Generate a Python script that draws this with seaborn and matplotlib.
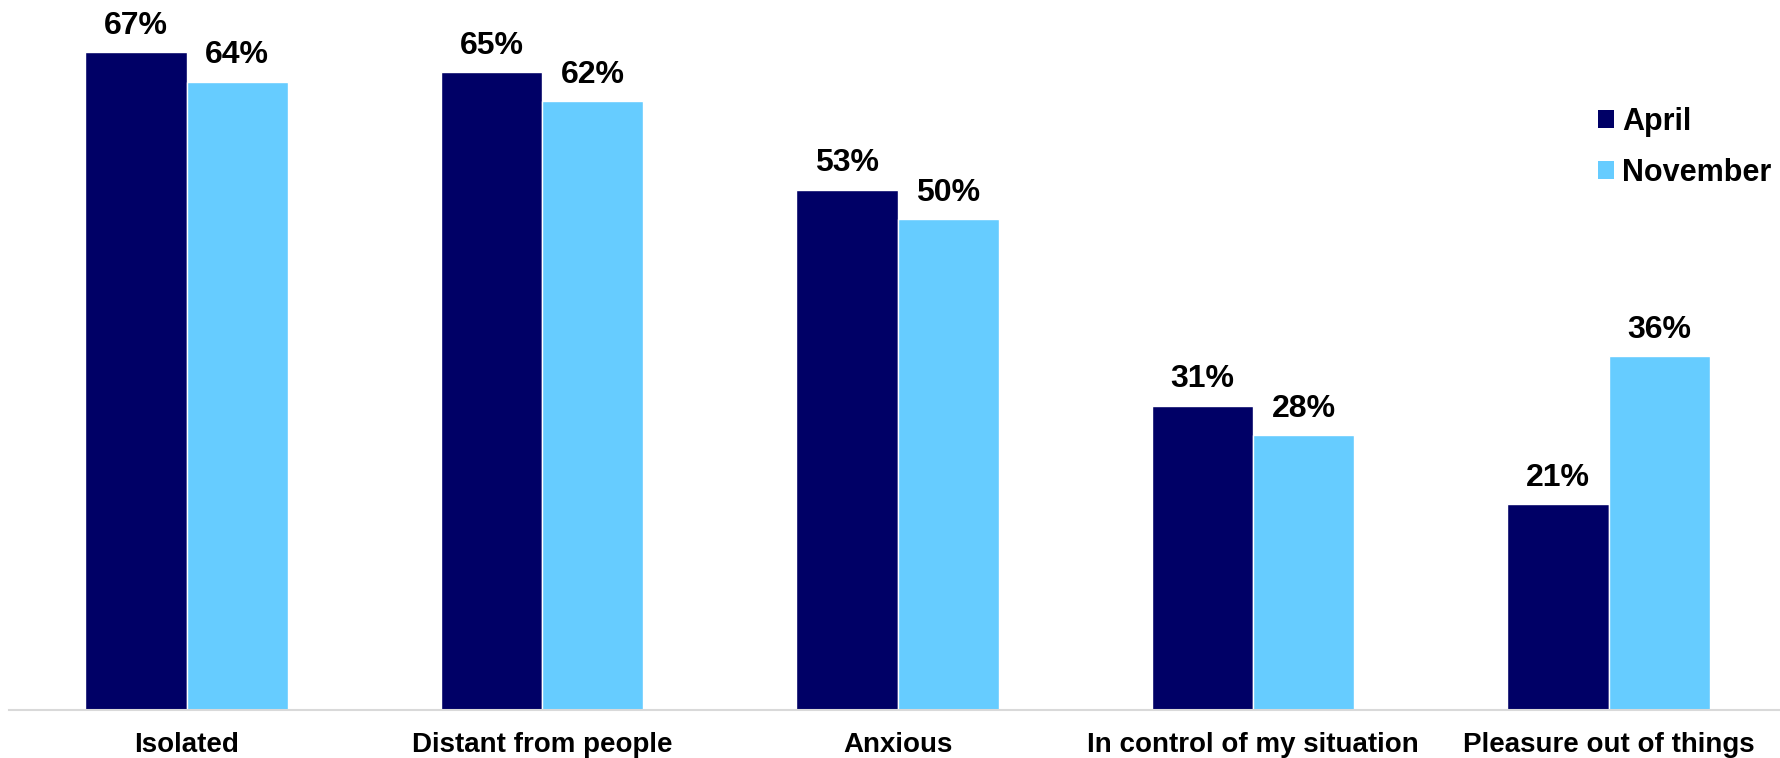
import matplotlib
matplotlib.use("Agg")
import matplotlib.pyplot as plt
import seaborn as sns
import pandas as pd
from matplotlib.patches import Patch

categories = ["Isolated", "Distant from people", "Anxious",
              "In control of my situation", "Pleasure out of things"]
april = [67, 65, 53, 31, 21]
november = [64, 62, 50, 28, 36]
series_names = ["April", "November"]
colors = ["#000066", "#66CCFF"]

df = pd.DataFrame({
    "feeling": categories * 2,
    "pct": april + november,
    "month": [series_names[0]] * len(categories) + [series_names[1]] * len(categories),
})

sns.set_theme(style="white")
plt.rcParams["font.family"] = ["Liberation Sans", "DejaVu Sans"]
plt.rcParams["font.weight"] = "bold"
plt.rcParams["text.color"] = "black"

fig = plt.figure(figsize=(17.81, 7.58), dpi=100)
ax = fig.add_axes([0.005, 0.0633, 0.998, 0.9367])

sns.barplot(data=df, x="feeling", y="pct", hue="month",
            palette=colors, width=0.57, saturation=1, ax=ax, legend=False)

for container in ax.containers:
    ax.bar_label(container, labels=[f"{v:.0f}%" for v in container.datavalues],
                 padding=8, fontsize=23, fontweight="bold", color="black")

ax.set_ylim(0, 72.3)
ax.set_xlim(-0.5, 4.5)
ax.set_xlabel("")
ax.set_ylabel("")
ax.set_yticks([])
for side in ["top", "right", "left"]:
    ax.spines[side].set_visible(False)
ax.spines["bottom"].set_color("#d9d9d9")
ax.spines["bottom"].set_linewidth(1.5)
ax.tick_params(axis="x", length=0, pad=16, labelsize=20, labelcolor="black")
for lbl in ax.get_xticklabels():
    lbl.set_fontweight("bold")

handles = [Patch(facecolor=c, edgecolor="none") for c in colors]
leg = fig.legend(handles, series_names, loc="upper left", bbox_to_anchor=(0.8973, 0.8594),
                 frameon=False, handlelength=0.52, handleheight=0.52,
                 handletextpad=0.26, labelspacing=0.69, borderpad=0, borderaxespad=0,
                 prop={"weight": "bold", "size": 22})
for t in leg.get_texts():
    t.set_color("black")

fig.savefig("out.png", dpi=100)
